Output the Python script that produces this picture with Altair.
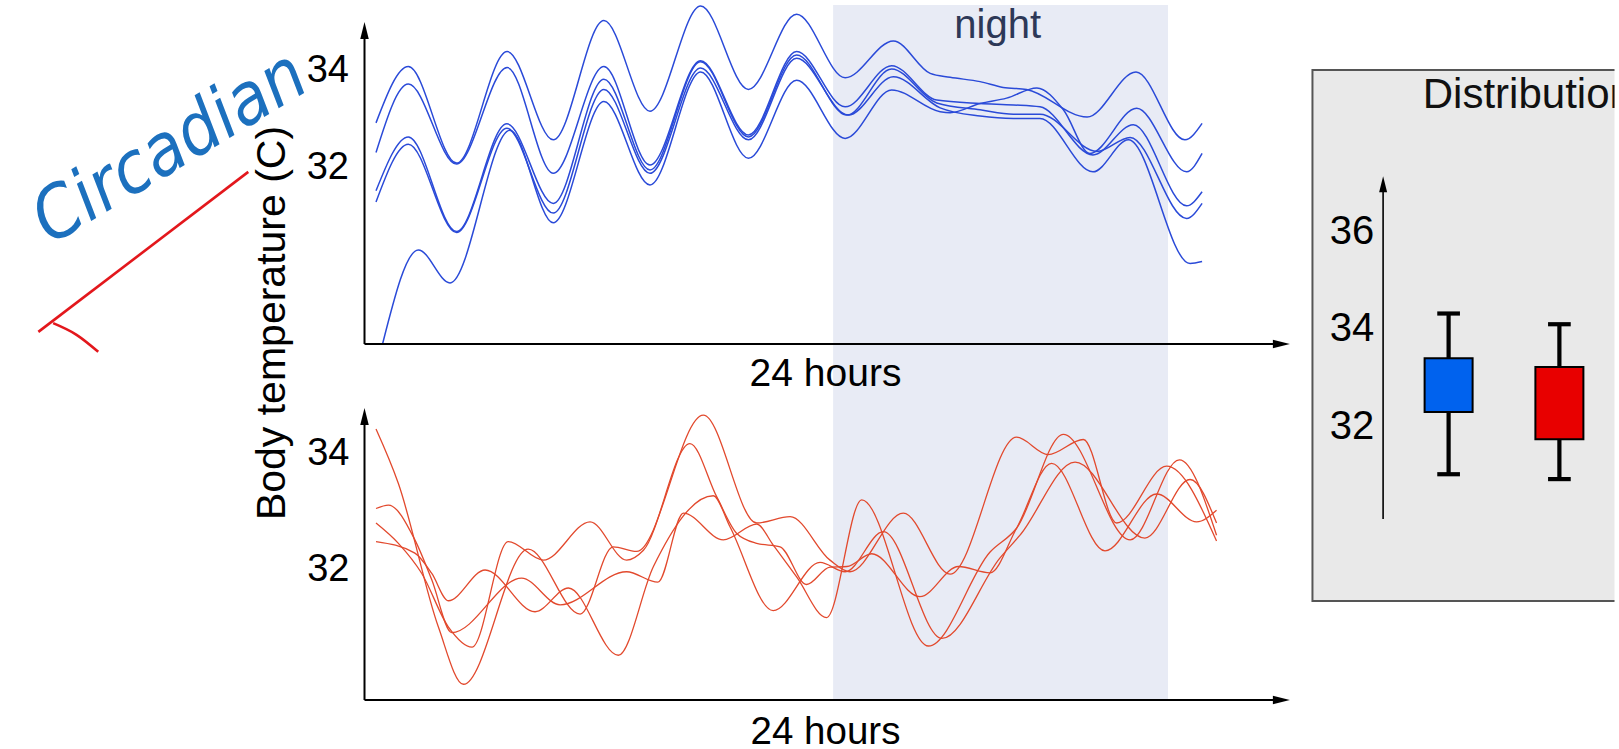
import altair as alt
import pandas as pd

FONT = "Liberation Sans, Arial, Helvetica, sans-serif"

# ---------------- top panel: five blue traces (hours, body temperature C) ----------------
blue_a_h = [0, 0.94, 2.34, 3.81, 5.15, 6.62, 7.96, 9.43, 10.82, 12.22, 13.63, 15.03, 16.10, 16.68, 17.55, 18.22, 18.90, 20.66, 22.08, 23.50, 24.0]
blue_a_t = [32.91, 34.07, 32.08, 34.38, 32.56, 35.02, 33.15, 35.32, 33.60, 35.15, 33.84, 34.60, 33.93, 33.85, 33.76, 33.64, 33.60, 33.03, 33.96, 32.56, 32.90]
blue_b_h = [0, 0.94, 2.34, 3.81, 5.15, 6.62, 7.96, 9.43, 10.82, 12.22, 13.63, 14.98, 16.29, 17.55, 18.52, 19.29, 20.83, 22.00, 23.55, 24.0]
blue_b_t = [32.30, 33.71, 32.06, 34.05, 31.87, 34.07, 32.04, 34.19, 32.66, 34.38, 33.24, 34.09, 33.38, 33.31, 33.28, 33.24, 32.25, 32.87, 31.20, 31.49]
blue_c_h = [0, 0.94, 2.34, 3.80, 5.15, 6.62, 7.96, 9.43, 10.82, 12.22, 13.68, 14.98, 16.29, 17.55, 18.52, 19.29, 20.95, 21.91, 23.55, 24.0]
blue_c_t = [31.51, 32.62, 30.67, 32.89, 31.25, 33.81, 31.94, 34.17, 32.62, 34.31, 33.07, 34.02, 33.32, 33.18, 33.09, 33.09, 32.32, 32.61, 30.94, 31.25]
blue_d_h = [0, 0.94, 2.34, 3.80, 5.15, 6.62, 7.96, 9.43, 10.82, 12.22, 13.72, 15.03, 16.39, 17.55, 18.52, 19.29, 20.83, 21.86, 23.65, 24.0]
blue_d_t = [31.28, 32.47, 30.65, 32.80, 31.05, 33.60, 31.87, 34.04, 32.56, 34.24, 33.07, 33.86, 33.22, 33.05, 33.00, 33.00, 31.90, 32.56, 30.01, 30.05]
blue_e_h = [0.19, 1.23, 2.15, 3.89, 5.15, 6.62, 7.96, 9.43, 10.82, 12.22, 13.63, 14.98, 16.39, 16.68, 17.55, 18.32, 19.20, 19.97, 20.74, 22.10, 23.55, 24.0]
blue_e_t = [28.35, 30.29, 29.61, 32.76, 30.85, 33.35, 31.63, 33.96, 32.18, 33.79, 32.59, 33.59, 33.14, 33.12, 33.31, 33.42, 33.63, 33.18, 32.28, 33.21, 31.90, 32.28]

# ---------------- bottom panel: four red traces ----------------
red_1_h = [0, 0.65, 1.81, 2.54, 4.42, 5.93, 6.89, 7.57, 9.51, 11.06, 12.03, 13.19, 13.77, 15.32, 16.68, 18.61, 19.53, 20.55, 21.52, 22.97, 24.42]
red_1_t = [34.43, 33.49, 31.02, 30.03, 32.36, 31.24, 32.40, 32.32, 34.67, 32.81, 32.92, 32.17, 31.97, 32.98, 31.93, 34.29, 33.99, 34.25, 32.81, 33.79, 32.50]
red_2_h = [0, 0.36, 1.13, 1.62, 2.20, 4.23, 5.35, 7.28, 8.19, 8.93, 10.09, 11.06, 11.54, 12.22, 13.09, 14.11, 16.05, 17.84, 18.61, 19.97, 21.91, 23.34, 24.42]
red_2_t = [33.06, 33.12, 32.52, 31.83, 30.92, 31.86, 31.40, 31.97, 31.79, 32.98, 32.52, 32.79, 32.43, 31.88, 31.18, 33.21, 30.69, 32.31, 32.72, 34.34, 32.52, 33.90, 32.60]
red_3_h = [0, 0.65, 1.33, 2.10, 2.79, 3.84, 4.86, 6.22, 7.28, 7.77, 9.12, 9.90, 10.48, 11.06, 11.74, 12.51, 13.19, 13.68, 14.40, 15.80, 16.92, 17.84, 18.61, 19.63, 21.18, 22.68, 23.84, 24.42]
red_3_t = [32.81, 32.46, 31.94, 31.02, 30.67, 32.49, 32.17, 32.83, 32.17, 32.34, 34.18, 33.26, 32.63, 32.46, 32.40, 31.75, 32.05, 32.06, 32.28, 31.54, 32.06, 31.95, 32.72, 33.84, 32.33, 33.31, 32.83, 33.03]
red_4_h = [0, 1.13, 1.62, 2.10, 3.17, 4.62, 5.59, 7.04, 8.06, 9.80, 10.28, 11.54, 12.90, 13.63, 14.74, 16.44, 18.13, 18.71, 20.31, 22.34, 23.65, 24.42]
red_4_t = [32.49, 32.29, 31.94, 31.47, 32.00, 31.28, 31.69, 30.53, 32.06, 33.28, 32.75, 31.30, 32.13, 31.97, 32.66, 30.82, 32.21, 32.60, 33.86, 32.55, 33.56, 32.81]

# night period (hours)
night_start = [13.28]
night_end = [23.01]
night_label = ["night"]

# distribution panel (C)
box_groups = ["top", "bottom"]
box_pos = [1, 2]
box_colors = ["#0062ee", "#e80000"]
box_low = [31.01, 30.91]
box_q1 = [32.29, 31.73]
box_q3 = [33.39, 33.21]
box_high = [34.31, 34.09]
box_title = ["Distribution"]

# tick labels
top_ticks = [32, 34]
bottom_ticks = [32, 34]
box_ticks = [32, 34, 36]

# hand-drawn annotation (in top panel units)
ink_word = ["Circadian"]
ink_line_h = [-9.81, -3.71]
ink_line_t = [28.60, 31.90]
ink_hook_h = [-9.38, -8.70, -8.07]
ink_hook_t = [28.78, 28.54, 28.19]

# ---------------- layout (scale domains / sizes) ----------------
W_LEFT, H_TOP, H_BOT = 1292, 391, 304
W_BOX, H_BOX = 308, 695
X_DOM = [-10.924, 26.612]
AX_H = -0.334          # where the y axes sit (hours)
TIP_H = 26.55          # x-axis arrow tip (hours)
TOP_DOM = [27.2784, 35.3402]
TOP_AX_T, TOP_TIP_T = 28.3505, 34.99
BOT_DOM = [29.7586, 35.0]
BOT_TIP_T = 34.793
BOX_X_DOM = [-0.2376, 2.4523]
BOX_Y_DOM = [26.374, 40.645]

BLUE = "#2a4ad8"
RED = "#e2492d"
BAND = "#e8ebf5"
UP = "M0,0L0.5,2L-0.5,2Z"
RIGHT = "M0,0L-2,-0.5L-2,0.5Z"


def frame(series):
    rows = []
    for name, hs, ts in series:
        for h, t in zip(hs, ts):
            rows.append({"series": name, "h": h, "t": t})
    return pd.DataFrame(rows)


blue_df = frame([("A", blue_a_h, blue_a_t), ("B", blue_b_h, blue_b_t), ("C", blue_c_h, blue_c_t),
                 ("D", blue_d_h, blue_d_t), ("E", blue_e_h, blue_e_t)])
red_df = frame([("1", red_1_h, red_1_t), ("2", red_2_h, red_2_t), ("3", red_3_h, red_3_t),
                ("4", red_4_h, red_4_t)])
ink_df = frame([("line", ink_line_h, ink_line_t), ("hook", ink_hook_h, ink_hook_t)])

x_scale = alt.Scale(domain=X_DOM, nice=False, zero=False)


def panel(df_lines, color, width_px, ydom, ax_t, tip_t, x_axis, y_axis, height, extra=None):
    y_scale = alt.Scale(domain=ydom, nice=False, zero=False)

    def X(f):
        return alt.X(f"{f}:Q", scale=x_scale, axis=x_axis)

    def Y(f):
        return alt.Y(f"{f}:Q", scale=y_scale, axis=y_axis)

    band_df = pd.DataFrame({"h": night_start, "h2": night_end, "t": [ydom[0]], "t2": [ydom[1]]})
    band = alt.Chart(band_df).mark_rect(color=BAND).encode(
        x=X("h"), x2="h2", y=Y("t"), y2="t2")
    lines = alt.Chart(df_lines).mark_line(color=color, strokeWidth=width_px, interpolate="monotone").encode(
        x=X("h"), y=Y("t"), detail="series:N")
    yline = alt.Chart(pd.DataFrame({"h": [AX_H], "t": [ax_t], "t2": [tip_t - 0.2]})).mark_rule(
        color="black", strokeWidth=2).encode(x=X("h"), y=Y("t"), y2="t2")
    xline = alt.Chart(pd.DataFrame({"h": [AX_H], "h2": [TIP_H - 0.3], "t": [ax_t]})).mark_rule(
        color="black", strokeWidth=2).encode(x=X("h"), x2="h2", y=Y("t"))
    up = alt.Chart(pd.DataFrame({"h": [AX_H], "t": [tip_t]})).mark_point(
        shape=UP, size=289, filled=True, color="black", opacity=1, strokeWidth=0).encode(x=X("h"), y=Y("t"))
    right = alt.Chart(pd.DataFrame({"h": [TIP_H], "t": [ax_t]})).mark_point(
        shape=RIGHT, size=289, filled=True, color="black", opacity=1, strokeWidth=0).encode(x=X("h"), y=Y("t"))
    layers = [band, lines, yline, xline, up, right]
    if extra:
        layers += [e(X, Y) for e in extra]
    return alt.layer(*layers).properties(width=W_LEFT, height=height)


top_x_axis = alt.Axis(orient="bottom", offset=-52, labels=False, ticks=False, domain=False, grid=False,
                      title="24 hours", titleX=825, titleY=41.5, titleAlign="center", titleBaseline="alphabetic",
                      titleFontSize=39, titleFont=FONT, titleFontWeight="normal", titleColor="black", zindex=1)
top_y_axis = alt.Axis(orient="left", offset=-364.5, values=top_ticks, labelPadding=16, labelFontSize=38,
                      labelFont=FONT, labelColor="black", ticks=False, domain=False, grid=False,
                      title="Body temperature (C)", titleAngle=270, titleX=-80, titleY=317.5,
                      titleAlign="center", titleBaseline="alphabetic", titleFontSize=41, titleFont=FONT,
                      titleFontWeight="normal", titleColor="black", titleLimit=2000, zindex=1)
bot_x_axis = alt.Axis(orient="bottom", offset=0, labels=False, ticks=False, domain=False, grid=False,
                      title="24 hours", titleX=825, titleY=43, titleAlign="center", titleBaseline="alphabetic",
                      titleFontSize=38.5, titleFont=FONT, titleFontWeight="normal", titleColor="black", zindex=1)
bot_y_axis = alt.Axis(orient="left", offset=-364.5, values=bottom_ticks, labelPadding=15.5, labelFontSize=38,
                      labelFont=FONT, labelColor="black", ticks=False, domain=False, grid=False, title=None,
                      zindex=1)


def night_text(X, Y):
    return alt.Chart(pd.DataFrame({"h": [18.06], "t": [34.654], "label": night_label})).mark_text(
        font=FONT, fontSize=40, color="#2d3857", align="center", baseline="alphabetic").encode(
        x=X("h"), y=Y("t"), text="label:N")


def ink_lines(X, Y):
    return alt.Chart(ink_df).mark_line(color="#e3171c", strokeWidth=2.6, interpolate="monotone",
                                       clip=True).encode(x=X("h"), y=Y("t"), detail="series:N")


def ink_text(X, Y):
    return alt.Chart(pd.DataFrame({"h": [-5.985], "t": [32.39], "label": ink_word})).mark_text(
        font="Liberation Sans Narrow, DejaVu Sans Condensed, Liberation Sans", fontSize=72,
        fontStyle="italic", color="#1c70be", angle=329, align="center", baseline="middle",
        clip=True).encode(x=X("h"), y=Y("t"), text="label:N")


top = panel(blue_df, BLUE, 1.5, TOP_DOM, TOP_AX_T, TOP_TIP_T, top_x_axis, top_y_axis, H_TOP,
            extra=[night_text, ink_lines, ink_text])
bottom = panel(red_df, RED, 1.3, BOT_DOM, BOT_DOM[0], BOT_TIP_T, bot_x_axis, bot_y_axis, H_BOT)

left = alt.vconcat(top, bottom, spacing=0, bounds="flush")

# ---------------- distribution panel ----------------
bx = alt.Scale(domain=BOX_X_DOM, nice=False, zero=False)
by = alt.Scale(domain=BOX_Y_DOM, nice=False, zero=False)
box_y_axis = alt.Axis(orient="left", offset=-74, values=box_ticks, labelPadding=6.7, labelFontSize=40,
                      labelFont=FONT, labelColor="black", ticks=False, domain=False, grid=False, title=None,
                      zindex=1)


def BX(f):
    return alt.X(f"{f}:Q", scale=bx, axis=None)


def BY(f):
    return alt.Y(f"{f}:Q", scale=by, axis=box_y_axis)


box_df = pd.DataFrame({"group": box_groups, "pos": box_pos, "low": box_low, "q1": box_q1,
                       "q3": box_q3, "high": box_high})
caps_df = pd.DataFrame({"pos": box_pos + box_pos, "v": box_low + box_high})

bg = alt.Chart(pd.DataFrame({"x": [-0.2289], "x2": [3.0], "v": [39.310], "v2": [28.407]})).mark_rect(
    fill="#e9e9e9", stroke="#555555", strokeWidth=2, clip=True).encode(x=BX("x"), x2="x2", y=BY("v"), y2="v2")
b_axis = alt.Chart(pd.DataFrame({"x": [0.4087], "v": [30.09], "v2": [36.9]})).mark_rule(
    color="black", strokeWidth=1.6).encode(x=BX("x"), y=BY("v"), y2="v2")
b_arrow = alt.Chart(pd.DataFrame({"x": [0.4087], "v": [37.13]})).mark_point(
    shape=UP, size=256, filled=True, color="black", opacity=1, strokeWidth=0).encode(x=BX("x"), y=BY("v"))
whisk = alt.Chart(box_df).mark_rule(color="black", strokeWidth=4.2).encode(
    x=BX("pos"), y=BY("low"), y2="high")
boxes = alt.Chart(box_df).mark_bar(size=48, stroke="black", strokeWidth=2, opacity=1).encode(
    x=BX("pos"), y=BY("q1"), y2="q3",
    color=alt.Color("group:N", scale=alt.Scale(domain=box_groups, range=box_colors), legend=None))
caps = alt.Chart(caps_df).mark_point(shape="M-1,0L1,0", size=515, filled=False, color="black",
                                     strokeWidth=4.2, opacity=1).encode(x=BX("pos"), y=BY("v"))
b_title = alt.Chart(pd.DataFrame({"x": [0.7668], "v": [38.53], "label": box_title})).mark_text(
    font=FONT, fontSize=42, color="#111111", align="left", baseline="alphabetic", clip=True).encode(
    x=BX("x"), y=BY("v"), text="label:N")

box = alt.layer(bg, b_axis, b_arrow, whisk, boxes, caps, b_title).properties(width=W_BOX, height=H_BOX)

chart = alt.hconcat(left, box, spacing=14.5).properties(
    padding={"left": 0, "top": 2, "right": 0, "bottom": 0}
).configure_view(stroke=None).configure_axis(grid=False, domain=False, ticks=False)

chart.save("out.html", embed_options={"renderer": "svg", "actions": False})
